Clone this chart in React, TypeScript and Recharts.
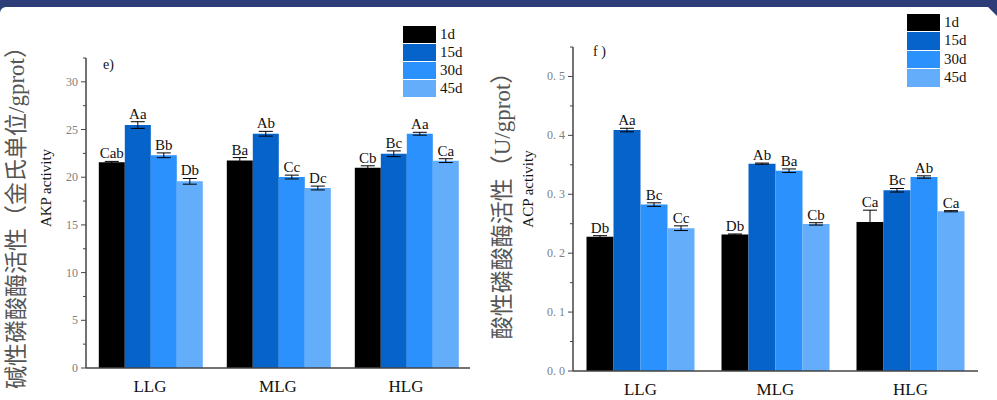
import React from 'react';
import { BarChart, Bar, XAxis, YAxis, ErrorBar, LabelList } from 'recharts';

const categories = ['LLG', 'MLG', 'HLG'];
const seriesNames = ['1d', '15d', '30d', '45d'];
const seriesColors = ['#000000', '#0563c9', '#2a91fd', '#63adfb'];

// AKP activity (panel e)
const akp1d = [21.56, 21.76, 21.0];
const akp15d = [25.47, 24.56, 22.46];
const akp30d = [22.3, 20.02, 24.56];
const akp45d = [19.57, 18.87, 21.74];
const akpErr1d = [0.1, 0.3, 0.2];
const akpErr15d = [0.35, 0.25, 0.3];
const akpErr30d = [0.25, 0.2, 0.15];
const akpErr45d = [0.3, 0.2, 0.2];
const akpLbl1d = ['Cab', 'Ba', 'Cb'];
const akpLbl15d = ['Aa', 'Ab', 'Bc'];
const akpLbl30d = ['Bb', 'Cc', 'Aa'];
const akpLbl45d = ['Db', 'Dc', 'Ca'];
const akpTicks = [0, 2.5, 5, 7.5, 10, 12.5, 15, 17.5, 20, 22.5, 25, 27.5, 30, 32.5];

// ACP activity (panel f)
const acp1d = [0.2277, 0.2316, 0.253];
const acp15d = [0.409, 0.352, 0.3068];
const acp30d = [0.2825, 0.34, 0.3293];
const acp45d = [0.2424, 0.2497, 0.2712];
const acpErr1d = [0.002, 0.001, 0.02];
const acpErr15d = [0.003, 0.001, 0.003];
const acpErr30d = [0.003, 0.003, 0.002];
const acpErr45d = [0.004, 0.002, 0.001];
const acpLbl1d = ['Db', 'Db', 'Ca'];
const acpLbl15d = ['Aa', 'Ab', 'Bc'];
const acpLbl30d = ['Bc', 'Ba', 'Ab'];
const acpLbl45d = ['Cc', 'Cb', 'Ca'];
const acpTicks = [0, 0.05, 0.1, 0.15, 0.2, 0.25, 0.3, 0.35, 0.4, 0.45, 0.5, 0.55];

const buildRows = (vals: number[][], errs: number[][], lbls: string[][]) =>
  categories.map((c, i) => {
    const row: any = { name: c };
    vals.forEach((v, s) => {
      row['v' + s] = v[i];
      row['e' + s] = errs[s][i];
      row['l' + s] = lbls[s][i];
    });
    return row;
  });

const akpRows = buildRows(
  [akp1d, akp15d, akp30d, akp45d],
  [akpErr1d, akpErr15d, akpErr30d, akpErr45d],
  [akpLbl1d, akpLbl15d, akpLbl30d, akpLbl45d]
);
const acpRows = buildRows(
  [acp1d, acp15d, acp30d, acp45d],
  [acpErr1d, acpErr15d, acpErr30d, acpErr45d],
  [acpLbl1d, acpLbl15d, acpLbl30d, acpLbl45d]
);

const SERIF = '"Liberation Serif", "Times New Roman", serif';
const TICK_SIZE = 5;
const TICK_MARGIN = 3;

const makeYTick = (isMajor: (v: number) => boolean, fmt: (v: number) => string) => (props: any) => {
  const { x, y, payload } = props;
  const ax = x + TICK_SIZE + TICK_MARGIN;
  const major = isMajor(payload.value);
  return (
    <g>
      <line x1={ax} x2={ax - (major ? 5 : 3)} y1={y} y2={y} stroke="#444" strokeWidth={1} />
      {major && (
        <text x={ax - 8} y={y} dy={4} textAnchor="end" fill="#808080" fontSize={12} fontFamily={SERIF}>
          {fmt(payload.value)}
        </text>
      )}
    </g>
  );
};

const XTick = (props: any) => {
  const { x, y, payload } = props;
  return (
    <text x={x} y={y} dy={16} textAnchor="middle" fill="#111" fontSize={17} fontFamily={SERIF}>
      {payload.value}
    </text>
  );
};

const makeLabel = (rows: any[], s: number) => (props: any) => {
  const vb = props.viewBox || props;
  const { x, y, width, height } = vb;
  const idx = props.index;
  const row = rows[idx];
  if (!row) return null;
  const pxPerUnit = Math.abs(height) / row['v' + s];
  const errPx = row['e' + s] * pxPerUnit;
  return (
    <text x={x + width / 2} y={y - errPx - 3} textAnchor="middle" fill="#111" fontSize={15} fontFamily={SERIF}>
      {props.value}
    </text>
  );
};

type PanelProps = {
  rows: any[];
  ticks: number[];
  domain: [number, number];
  isMajor: (v: number) => boolean;
  fmt: (v: number) => string;
  width: number;
  top: number;
  right: number;
  axisWidth: number;
  xHeight: number;
};

const Panel = ({ rows, ticks, domain, isMajor, fmt, width, top, right, axisWidth, xHeight }: PanelProps) => (
  <BarChart
    width={width}
    height={400}
    data={rows}
    margin={{ top, right, bottom: 0, left: 0 }}
    barCategoryGap="10%"
    barGap={0}
  >
    <XAxis
      dataKey="name"
      height={xHeight}
      tickLine={false}
      axisLine={{ stroke: '#444', strokeWidth: 1.5 }}
      tick={<XTick />}
      interval={0}
    />
    <YAxis
      width={axisWidth}
      domain={domain}
      ticks={ticks}
      interval={0}
      allowDataOverflow
      tickSize={TICK_SIZE}
      tickMargin={TICK_MARGIN}
      tickLine={false}
      axisLine={{ stroke: '#444', strokeWidth: 1.5 }}
      tick={makeYTick(isMajor, fmt)}
    />
    {seriesNames.map((n, s) => (
      <Bar key={n} dataKey={'v' + s} name={n} fill={seriesColors[s]} isAnimationActive={false}>
        <ErrorBar dataKey={'e' + s} width={7} strokeWidth={1} stroke="#000" direction="y" />
        <LabelList dataKey={'l' + s} content={makeLabel(rows, s)} />
      </Bar>
    ))}
  </BarChart>
);

const LegendBox = ({ left, top, h }: { left: number; top: number; h: number }) => (
  <div style={{ position: 'absolute', left, top }}>
    {seriesNames.map((n, s) => (
      <div key={n} style={{ display: 'flex', alignItems: 'center', height: h }}>
        <div style={{ width: 33, height: h - 1, background: seriesColors[s], marginRight: 4 }} />
        <span style={{ fontFamily: SERIF, fontSize: 15, color: '#111', lineHeight: 1 }}>{n}</span>
      </div>
    ))}
  </div>
);

const VText = ({ cx, cy, text, size, color }: { cx: number; cy: number; text: string; size: number; color: string }) => (
  <div
    style={{
      position: 'absolute',
      left: cx,
      top: cy,
      transform: 'translate(-50%, -50%) rotate(-90deg)',
      whiteSpace: 'nowrap',
      fontFamily: '"Liberation Serif", "Noto Sans CJK SC", serif',
      fontSize: size,
      color,
      lineHeight: 1,
    }}
  >
    {text}
  </div>
);

export default function App() {
  return (
    <div style={{ position: 'absolute', left: 0, top: 0, width: 997, height: 400, overflow: 'hidden', background: '#2d3d78' }}>
      <div style={{ position: 'absolute', left: 0, top: 7, width: 997, height: 393, background: '#fff', borderTopLeftRadius: 6 }} />
      <svg style={{ position: 'absolute', left: 0, top: 0 }} width={997} height={30}>
        <polygon points="988,7 997,7 997,16" fill="#2d3d78" />
      </svg>
      <div style={{ position: 'absolute', left: 0, top: 0 }}>
        <Panel
          rows={akpRows}
          ticks={akpTicks}
          domain={[0, 32.5]}
          isMajor={(v) => v % 5 === 0}
          fmt={(v) => String(v)}
          width={490}
          top={58}
          right={20}
          axisWidth={86}
          xHeight={32}
        />
      </div>
      <div style={{ position: 'absolute', left: 490, top: 0 }}>
        <Panel
          rows={acpRows}
          ticks={acpTicks}
          domain={[0, 0.55]}
          isMajor={(v) => Math.abs(Math.round(v * 10) - v * 10) < 1e-6}
          fmt={(v) => v.toFixed(1).replace('.', '. ')}
          width={507}
          top={47}
          right={19}
          axisWidth={83}
          xHeight={29}
        />
      </div>
      <LegendBox left={403} top={25} h={18} />
      <LegendBox left={907} top={13} h={18.5} />
      <div style={{ position: 'absolute', left: 103, top: 57, fontFamily: SERIF, fontSize: 14, color: '#111' }}>e)</div>
      <div style={{ position: 'absolute', left: 593, top: 44, fontFamily: SERIF, fontSize: 14, color: '#111' }}>f )</div>
      <VText cx={16} cy={212} text="碱性磷酸酶活性（金氏单位/gprot）" size={23} color="#555" />
      <VText cx={46} cy={188} text="AKP activity" size={15} color="#111" />
      <VText cx={502} cy={200} text="酸性磷酸酶活性（U/gprot）" size={23} color="#555" />
      <VText cx={528} cy={189} text="ACP activity" size={15} color="#111" />
    </div>
  );
}
